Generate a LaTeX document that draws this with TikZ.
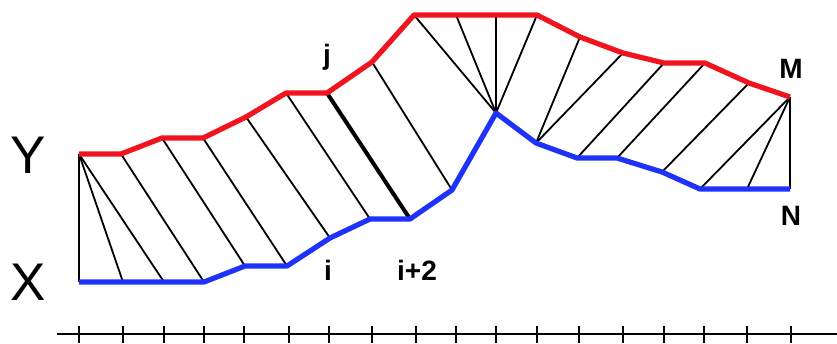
\documentclass[tikz,border=0pt]{standalone}
\usepackage{fontspec}
\setmainfont{Liberation Sans}
\definecolor{curvered}{RGB}{240,20,30}
\definecolor{curveblue}{RGB}{30,50,250}
\tikzset{
  warp/.style={black, line width=1.8pt},
  warpbold/.style={black, line width=4pt},
  ycurve/.style={curvered, line width=5.2pt, line join=round},
  xcurve/.style={curveblue, line width=5.2pt, line join=round},
  axisline/.style={black, line width=2.2pt},
  tickmark/.style={black, line width=2.8pt},
  biglabel/.style={font=\fontsize{53}{53}\selectfont, anchor=base, inner sep=0pt},
  idxlabel/.style={font=\fontsize{28}{28}\selectfont\bfseries, anchor=base, inner sep=0pt}
}
\begin{document}
\begin{tikzpicture}[x=1pt, y=-1pt]
\useasboundingbox (0,0) rectangle (837,343);
% Y sequence (red)
\foreach \n/\px/\py in {0/79/154,1/121/154,2/162/138,3/203/138,4/246/117,5/286/93,6/327/93,7/372/62,8/414/15,9/456/15,10/496/15,11/537/15,12/580/37,13/623/53,14/664/63,15/705/63,16/749/83,17/790/97}
  \coordinate (y\n) at (\px,\py);
% X sequence (blue)
\foreach \n/\px/\py in {0/79/282,1/123/282,2/164/282,3/204/282,4/245/266,5/287/266,6/330/238,7/370/219,8/410/219,9/452/190,10/496/113,11/536/143,12/577/158,13/617/158,14/662/172,15/700/189,16/747/189,17/790/189}
  \coordinate (x\n) at (\px,\py);
% warping path lines
\foreach \a/\b in {0/0,0/1,0/2,1/3,2/4,3/5,4/6,5/7,7/9,8/10,9/10,10/10,11/10,12/11,13/11,14/12,15/13,16/14,17/15,17/16,17/17}
  \draw[warp] (y\a) -- (x\b);
\draw[warpbold] (y6) -- (x8);
% curves
\draw[ycurve] (y0) \foreach \n in {1,...,17} { -- (y\n) };
\draw[xcurve] (x0) \foreach \n in {1,...,17} { -- (x\n) };
% time axis
\coordinate (axl) at (57,334);
\coordinate (axr) at (837,334);
\draw[axisline] (axl) -- (axr);
\foreach \tx in {79,123,164,204,244,289,329,372,416,456,496,537,579,623,664,704,747,791}
  \draw[tickmark] (\tx,326) -- (\tx,343);
% labels
\node[biglabel] (lY) at (28.5,173) {Y};
\node[biglabel] (lX) at (28.5,300) {X};
\node[idxlabel] (lj) at (327,64) {j};
\node[idxlabel] (li) at (328,280) {i};
\node[idxlabel] (li2) at (417,280) {i+2};
\node[idxlabel] (lM) at (791,78) {M};
\node[idxlabel] (lN) at (791,225) {N};
\end{tikzpicture}
\end{document}
